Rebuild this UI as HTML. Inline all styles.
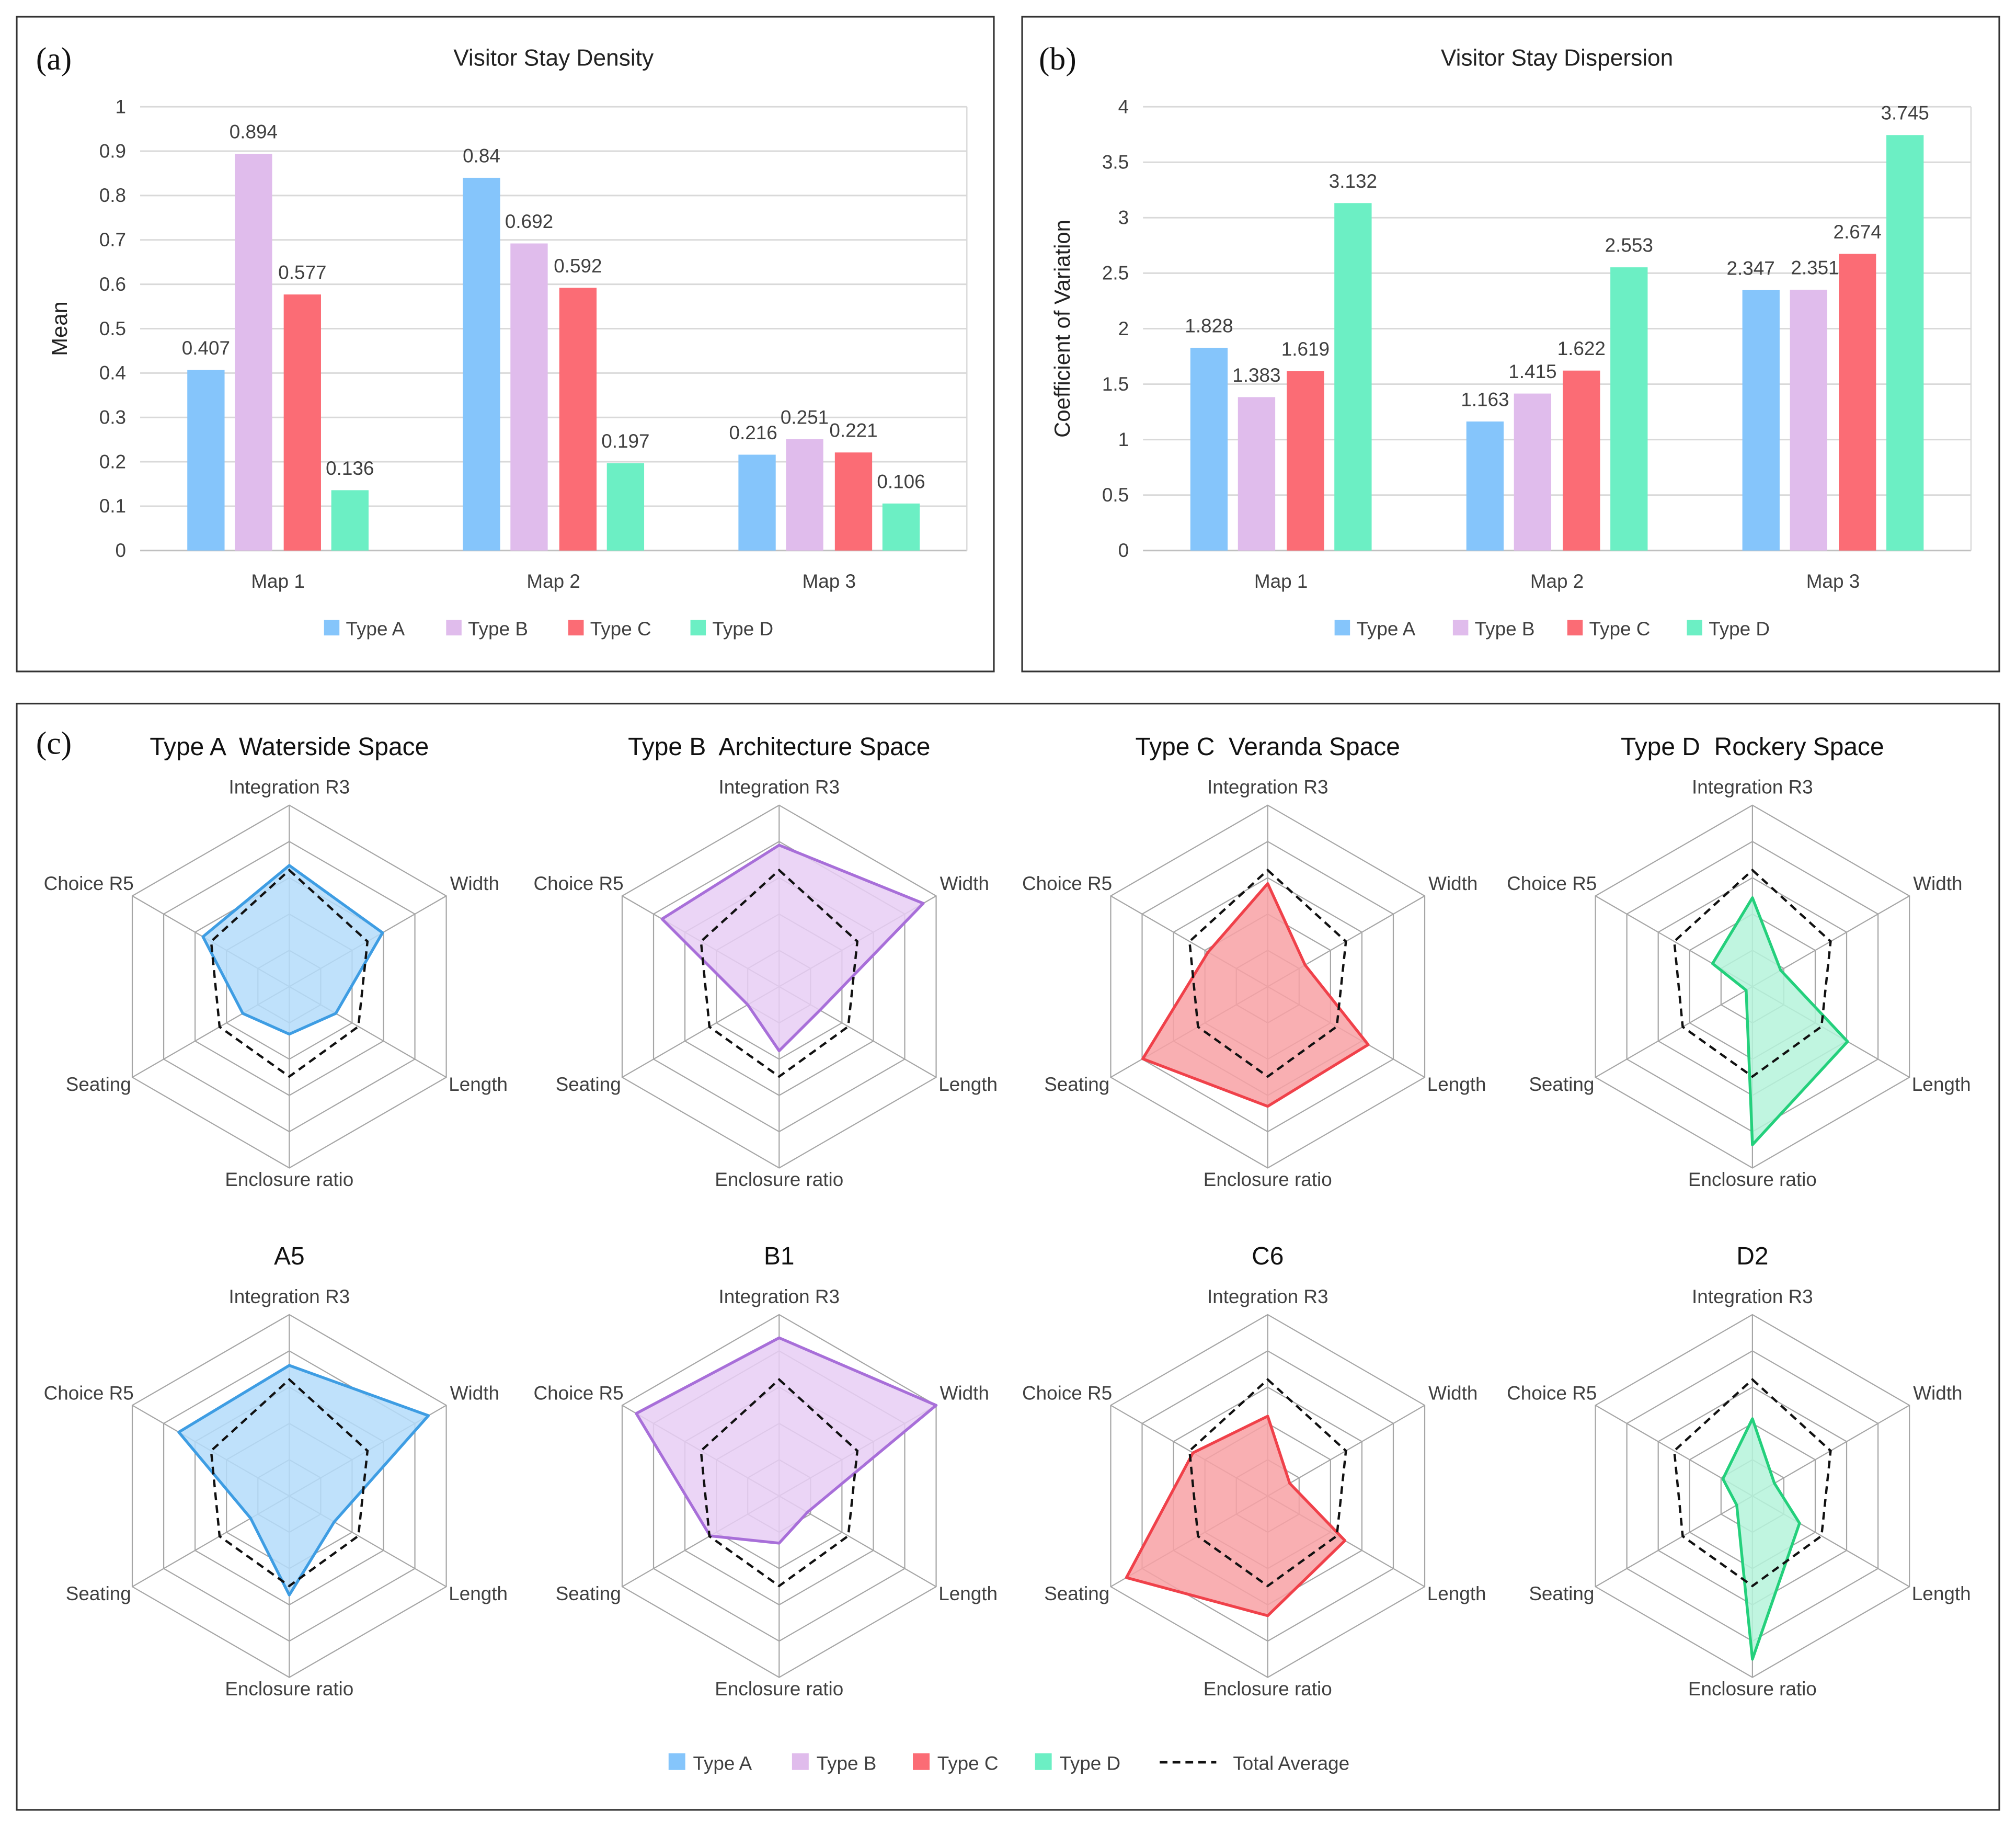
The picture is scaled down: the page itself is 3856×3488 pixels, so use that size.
<!DOCTYPE html>
<html><head><meta charset="utf-8"><style>
html,body{margin:0;padding:0;background:#fff}
svg{display:block}
text{font-family:"Liberation Sans",sans-serif;fill:#404040}
</style></head><body>
<svg id="fig" xmlns="http://www.w3.org/2000/svg" width="3856" height="3488" viewBox="0 0 1568 1418" preserveAspectRatio="none">
<rect x="0" y="0" width="1568" height="1418" fill="#fff"/>
<rect x="13" y="13" width="760" height="509" fill="none" stroke="#333" stroke-width="1.3"/>
<rect x="795" y="13" width="760" height="509" fill="none" stroke="#333" stroke-width="1.3"/>
<rect x="13" y="547" width="1542" height="860" fill="none" stroke="#333" stroke-width="1.3"/>
<text x="28" y="54" style="font-family:'Liberation Serif',serif;font-size:25px;fill:#111">(a)</text>
<text x="808" y="54" style="font-family:'Liberation Serif',serif;font-size:25px;fill:#111">(b)</text>
<text x="28" y="586" style="font-family:'Liberation Serif',serif;font-size:25px;fill:#111">(c)</text>
<g id="chartA"></g><g id="chartB"></g><g id="radars"></g><g id="legendC"></g>
</svg>
<script>
const categories = ["Map 1","Map 2","Map 3"];
const seriesNames = ["Type A","Type B","Type C","Type D"];
const densityA = [0.407,0.84,0.216];
const densityB = [0.894,0.692,0.251];
const densityC = [0.577,0.592,0.221];
const densityD = [0.136,0.197,0.106];
const densityTicks = ["0","0.1","0.2","0.3","0.4","0.5","0.6","0.7","0.8","0.9","1"];
const cvA = [1.828,1.163,2.347];
const cvB = [1.383,1.415,2.351];
const cvC = [1.619,1.622,2.674];
const cvD = [3.132,2.553,3.745];
const cvTicks = ["0","0.5","1","1.5","2","2.5","3","3.5","4"];
const radarAxes = ["Integration R3","Width","Length","Enclosure ratio","Seating","Choice R5"];
const totalAverage = [3.21,2.49,2.2,2.48,2.22,2.49];
const radarTypeA = [3.34,2.97,1.48,1.31,1.48,2.75];
const radarTypeB = [3.9,4.59,1.3,1.77,1.0,3.73];
const radarTypeC = [2.84,1.19,3.2,3.3,3.98,1.9];
const radarTypeD = [2.45,0.9,3.03,4.36,0.2,1.27];
const radarA5 = [3.6,4.43,1.43,2.73,1.23,3.52];
const radarB1 = [4.36,5.0,0.9,1.3,2.2,4.55];
const radarC6 = [2.2,0.7,2.46,3.3,4.5,2.38];
const radarD2 = [2.13,0.7,1.5,4.5,0.5,0.94];
const radarTitles = ["Type A  Waterside Space","Type B  Architecture Space","Type C  Veranda Space","Type D  Rockery Space","A5","B1","C6","D2"];

const NS="http://www.w3.org/2000/svg";
const barColors=["#85C5FB","#E0BCEC","#FB6C75","#6CEFC4"];
const strokeColors=["#3E9DE3","#A86FD9","#F0414A","#24D07C"];
const fillColors=["#B4DCFA","#E8CEF5","#F8A1A5","#B5F3DA"];
function mk(parent,tag,attrs,text){const e=document.createElementNS(NS,tag);for(const k in attrs)e.setAttribute(k,attrs[k]);if(text!==undefined)e.textContent=text;parent.appendChild(e);return e;}

function barChart(gid,x0,x1,title,yTitle,ticks,yMax,series,legendX,labelShift){
  const g=document.getElementById(gid);
  const yb=428,yt=83;
  const ys=v=>yb-(v/yMax)*(yb-yt);
  const bw=(x1-x0)/categories.length;
  const xs=i=>x0+bw*(i+0.5);
  let t=mk(g,'text',{x:(x0+x1)/2,y:51,'text-anchor':'middle','font-size':18,style:'fill:#222'},title);
  
  
  ticks.forEach(tk=>{
    const y=ys(parseFloat(tk));
    const l=mk(g,'line',{x1:x0,x2:x1,y1:y,y2:y,stroke:tk==="0"?'#bfbfbf':'#d9d9d9','stroke-width':1.2});
    
    
    const tt=mk(g,'text',{x:x0-11,y:y+5,'text-anchor':'end','font-size':15},tk);
    
    
  });
  const r=mk(g,'line',{x1:x1,x2:x1,y1:yt,y2:yb,stroke:'#d9d9d9'});
  
  
  const yl=mk(g,'text',{x:0,y:0,'text-anchor':'middle','font-size':17,transform:`translate(${x0-57},${(yt+yb)/2}) rotate(-90)`,style:'fill:#222'},yTitle);
  
  
  const offs=[-56,-19,19,56];
  categories.forEach((c,i)=>{
    const ct=mk(g,'text',{x:xs(i),y:457,'text-anchor':'middle','font-size':15},c);
    
    
    series.forEach((s,k)=>{
      const v=s[i];const cx=xs(i)+offs[k];
      const b=mk(g,'rect',{x:cx-14.5,y:ys(v),width:29,height:yb-ys(v),fill:barColors[k]});
      
      
      const sh=(labelShift&&i===2)?labelShift[k]:0;
      const lb=mk(g,'text',{x:cx+sh,y:ys(v)-12,'text-anchor':'middle','font-size':15},String(v));
      
      
    });
  });
  seriesNames.forEach((n,k)=>{
    const lx=legendX[k];
    const sq=mk(g,'rect',{x:lx,y:482,width:12,height:12,fill:barColors[k]});
    
    
    const lt=mk(g,'text',{x:lx+17,y:494,'font-size':15},n);
    
    
  });
}
barChart('chartA',109,752,'Visitor Stay Density','Mean',densityTicks,1,[densityA,densityB,densityC,densityD],[252,347,442,537],[-3,0,0,0]);
barChart('chartB',889,1533,'Visitor Stay Dispersion','Coefficient of Variation',cvTicks,4,[cvA,cvB,cvC,cvD],[1038,1130,1219,1312],[-8,5,0,0]);

const radarSets=[radarTypeA,radarTypeB,radarTypeC,radarTypeD,radarA5,radarB1,radarC6,radarD2];
const RC=[225,606,986,1363];
const R=141, levels=5;
const rg=document.getElementById('radars');
function pt(cx,cy,i,v){const a=-Math.PI/2+i*Math.PI/3;const r=v/levels*R;return [cx+r*Math.cos(a),cy+r*Math.sin(a)];}
radarSets.forEach((vals,idx)=>{
  const col=idx%4,row=Math.floor(idx/4);
  const cx=RC[col],cy=767+row*396;
  const g=mk(rg,'g',{});
  
  
  const ti=mk(g,'text',{x:cx,y:cy-180,'text-anchor':'middle','font-size':19.5,style:'fill:#111;white-space:pre'},radarTitles[idx]);
  
  
  for(let l=1;l<=levels;l++){
    const p=[0,1,2,3,4,5].map(i=>pt(cx,cy,i,l).join(',')).join(' ');
    const pg=mk(g,'polygon',{points:p,fill:'none',stroke:'#a6a6a6','stroke-width':0.9});
    
    
  }
  for(let i=0;i<6;i++){const [x,y]=pt(cx,cy,i,levels);
    const sp=mk(g,'line',{x1:cx,y1:cy,x2:x,y2:y,stroke:'#a6a6a6','stroke-width':0.9});
    
    
  }
  const k=col;
  const dp=vals.map((v,i)=>pt(cx,cy,i,v).join(',')).join(' ');
  const poly=mk(g,'polygon',{points:dp,fill:fillColors[k],'fill-opacity':0.85,stroke:strokeColors[k],'stroke-width':2.2,'stroke-linejoin':'round'});
  
  
  const ap=totalAverage.map((v,i)=>pt(cx,cy,i,v).join(',')).join(' ');
  const avg=mk(g,'polygon',{points:ap,fill:'none',stroke:'#111','stroke-width':1.8,'stroke-dasharray':'6,4'});
  
  
  const lp=[[cx,cy-150,'middle'],[cx+125,cy-75,'start'],[cx+124,cy+81,'start'],[cx,cy+155,'middle'],[cx-123,cy+81,'end'],[cx-121,cy-75,'end']];
  radarAxes.forEach((a,i)=>{
    const at=mk(g,'text',{x:lp[i][0],y:lp[i][1],'text-anchor':lp[i][2],'font-size':15},a);
    
    
  });
});
const lg=document.getElementById('legendC');
const lcx=[520,616,710,805];
seriesNames.forEach((n,k)=>{
  const sq=mk(lg,'rect',{x:lcx[k],y:1363,width:13,height:13,fill:barColors[k]});
  
  
  const t=mk(lg,'text',{x:lcx[k]+19,y:1376,'font-size':15},n);
  
  
});
const dl=mk(lg,'line',{x1:902,x2:946,y1:1370,y2:1370,stroke:'#111','stroke-width':2,'stroke-dasharray':'6,4'});


const dt=mk(lg,'text',{x:959,y:1376,'font-size':15},'Total Average');


</script>
</body></html>
